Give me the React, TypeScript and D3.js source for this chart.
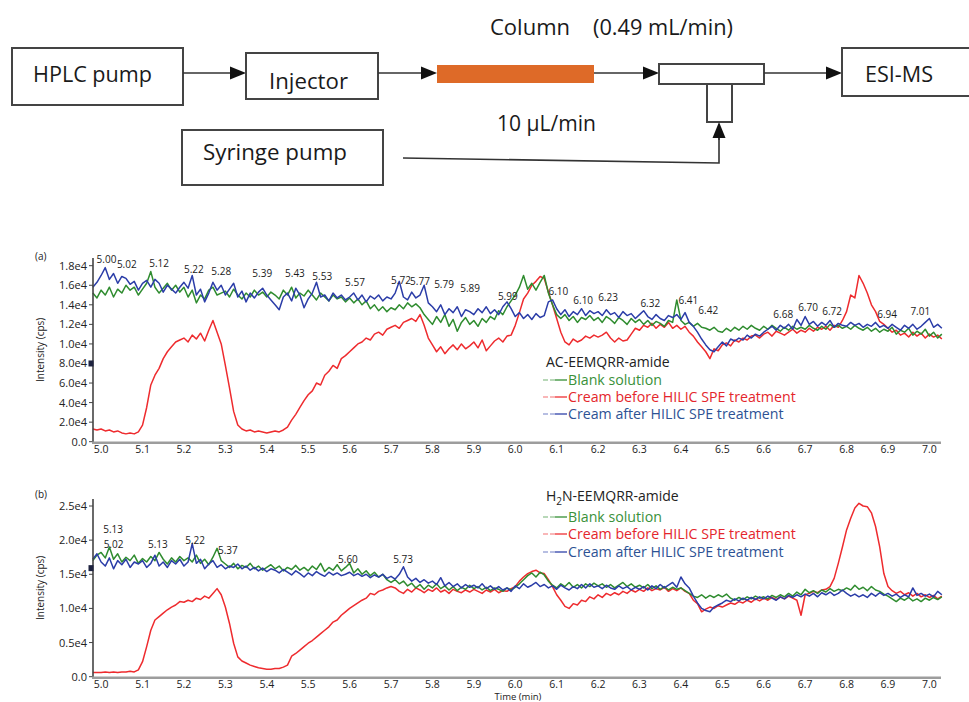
import React from 'react';
import * as d3 from 'd3';

// traces, one value every 0.01 min starting at 4.98 min (intensity in 1e4 cps)
const T0 = 4.98;
const DT = 0.01;

const timeTicks = [5.0, 5.1, 5.2, 5.3, 5.4, 5.5, 5.6, 5.7, 5.8, 5.9, 6.0, 6.1, 6.2, 6.3, 6.4, 6.5, 6.6, 6.7, 6.8, 6.9, 7.0];
const timeTickLabels = ['5.0', '5.1', '5.2', '5.3', '5.4', '5.5', '5.6', '5.7', '5.8', '5.9', '6.0', '6.1', '6.2', '6.3', '6.4', '6.5', '6.6', '6.7', '6.8', '6.9', '7.0'];

const aTicks = [0, 0.2, 0.4, 0.6, 0.8, 1.0, 1.2, 1.4, 1.6, 1.8];
const aTickLabels = ['0.0', '2.0e4', '4.0e4', '6.0e4', '8.0e4', '1.0e4', '1.2e4', '1.4e4', '1.6e4', '1.8e4'];
const bTicks = [0, 0.5, 1.0, 1.5, 2.0, 2.5];
const bTickLabels = ['0.0', '0.5e4', '1.0e4', '1.5e4', '2.0e4', '2.5e4'];

const seriesNames = ['Blank solution', 'Cream before HILIC SPE treatment', 'Cream after HILIC SPE treatment'];

// (a) AC-EEMQRR-amide
const aBlank = [
  1.52, 1.47,
  1.55, 1.50, 1.58, 1.48, 1.56, 1.52, 1.60, 1.55, 1.58, 1.50,
  1.56, 1.62, 1.74, 1.58, 1.52, 1.57, 1.62, 1.55, 1.60, 1.53,
  1.58, 1.48, 1.55, 1.42, 1.50, 1.46, 1.55, 1.58, 1.50, 1.52,
  1.54, 1.48, 1.56, 1.50, 1.46, 1.52, 1.48, 1.55, 1.50, 1.53,
  1.48, 1.53, 1.50, 1.46, 1.55, 1.50, 1.58, 1.47, 1.52, 1.49,
  1.55, 1.50, 1.45, 1.52, 1.48, 1.44, 1.50, 1.46, 1.48, 1.43,
  1.47, 1.42, 1.46, 1.40, 1.44, 1.36, 1.40, 1.34, 1.38, 1.33,
  1.37, 1.35, 1.40, 1.36, 1.42, 1.38, 1.41, 1.37, 1.30, 1.25,
  1.20, 1.28, 1.22, 1.30, 1.18, 1.25, 1.13, 1.22, 1.27, 1.20,
  1.24, 1.18, 1.26, 1.22, 1.28, 1.25, 1.34, 1.30, 1.38, 1.44,
  1.50, 1.58, 1.70, 1.56, 1.62, 1.55, 1.63, 1.70, 1.52, 1.40,
  1.30, 1.26, 1.30, 1.24, 1.28, 1.22, 1.27, 1.25, 1.29, 1.24,
  1.27, 1.22, 1.28, 1.25, 1.21, 1.27, 1.24, 1.20, 1.26, 1.22,
  1.25, 1.20, 1.24, 1.19, 1.23, 1.21, 1.18, 1.24, 1.22, 1.45,
  1.24, 1.20, 1.22, 1.18, 1.21, 1.17, 1.16, 1.14, 1.17, 1.13,
  1.12, 1.16, 1.13, 1.17, 1.14, 1.18, 1.15, 1.19, 1.16, 1.14,
  1.18, 1.15, 1.19, 1.16, 1.13, 1.17, 1.14, 1.18, 1.15, 1.17,
  1.15, 1.19, 1.16, 1.14, 1.18, 1.15, 1.20, 1.17, 1.19, 1.16,
  1.18, 1.15, 1.19, 1.16, 1.14, 1.17, 1.13, 1.16, 1.12, 1.15,
  1.13, 1.17, 1.10, 1.14, 1.12, 1.16, 1.09, 1.13, 1.10, 1.15,
  1.08, 1.12, 1.06, 1.10,
];
const aBefore = [
  0.13, 0.12,
  0.13, 0.11, 0.12, 0.10, 0.11, 0.09, 0.08, 0.09, 0.08, 0.10,
  0.17, 0.35, 0.58, 0.68, 0.75, 0.85, 0.92, 0.97, 1.02, 1.04,
  1.06, 1.02, 1.09, 1.05, 1.11, 1.03, 1.14, 1.24, 1.12, 1.00,
  0.78, 0.55, 0.31, 0.17, 0.13, 0.11, 0.12, 0.10, 0.11, 0.10,
  0.09, 0.10, 0.11, 0.10, 0.12, 0.15, 0.22, 0.28, 0.35, 0.42,
  0.48, 0.52, 0.60, 0.58, 0.68, 0.72, 0.78, 0.75, 0.85, 0.88,
  0.92, 0.96, 1.00, 1.02, 1.06, 1.04, 1.10, 1.12, 1.09, 1.15,
  1.17, 1.19, 1.16, 1.22, 1.24, 1.26, 1.23, 1.30, 1.19, 1.06,
  0.99, 0.92, 0.97, 0.90, 0.95, 0.99, 0.94, 1.00, 0.95, 0.98,
  1.02, 0.96, 1.04, 0.93, 0.98, 1.03, 1.06, 1.02, 1.08, 1.09,
  1.19, 1.32, 1.46, 1.52, 1.60, 1.64, 1.69, 1.67, 1.53, 1.40,
  1.26, 1.12, 1.02, 0.99, 1.05, 1.02, 1.04, 1.08, 1.06, 1.09,
  1.07, 1.09, 1.12, 1.06, 1.02, 1.06, 1.03, 1.04, 1.10, 1.16,
  1.14, 1.19, 1.17, 1.21, 1.16, 1.20, 1.17, 1.22, 1.16, 1.19,
  1.15, 1.18, 1.12, 1.08, 1.02, 0.97, 0.92, 0.85, 0.95, 0.93,
  0.99, 1.01, 0.98, 1.04, 1.02, 1.06, 1.04, 1.08, 1.09, 1.06,
  1.10, 1.12, 1.08, 1.13, 1.11, 1.09, 1.12, 1.15, 1.11, 1.14,
  1.12, 1.16, 1.13, 1.17, 1.15, 1.18, 1.14, 1.19, 1.17, 1.24,
  1.33, 1.50, 1.47, 1.70, 1.62, 1.52, 1.40, 1.33, 1.23, 1.20,
  1.16, 1.12, 1.14, 1.09, 1.11, 1.07, 1.12, 1.08, 1.11, 1.06,
  1.10, 1.07, 1.09, 1.05,
];
const aAfter = [
  1.58, 1.63,
  1.70, 1.78, 1.66, 1.72, 1.62, 1.69, 1.67, 1.61, 1.64, 1.55,
  1.62, 1.65, 1.58, 1.66, 1.62, 1.53, 1.60, 1.56, 1.52, 1.58,
  1.63, 1.57, 1.70, 1.50, 1.56, 1.43, 1.52, 1.63, 1.55, 1.60,
  1.50, 1.56, 1.62, 1.48, 1.54, 1.43, 1.52, 1.47, 1.53, 1.57,
  1.50, 1.45, 1.40, 1.35, 1.48, 1.52, 1.44, 1.57, 1.50, 1.37,
  1.46, 1.52, 1.63, 1.48, 1.50, 1.44, 1.52, 1.47, 1.50, 1.45,
  1.48, 1.52, 1.45, 1.50, 1.43, 1.49, 1.46, 1.50, 1.44, 1.48,
  1.46, 1.52, 1.64, 1.48, 1.45, 1.53, 1.47, 1.50, 1.60, 1.42,
  1.38, 1.33, 1.40, 1.30, 1.36, 1.32, 1.38, 1.28, 1.35, 1.33,
  1.30, 1.36, 1.32, 1.38, 1.31, 1.35, 1.30, 1.38, 1.43, 1.36,
  1.28, 1.32, 1.26, 1.30, 1.25, 1.31, 1.27, 1.29, 1.43, 1.45,
  1.36, 1.30, 1.35, 1.28, 1.33, 1.30, 1.36, 1.29, 1.34, 1.31,
  1.33, 1.29, 1.35, 1.30, 1.32, 1.27, 1.33, 1.29, 1.31, 1.26,
  1.30, 1.34, 1.28, 1.25, 1.30, 1.26, 1.24, 1.29, 1.27, 1.30,
  1.25, 1.32, 1.22, 1.18, 1.12, 1.05, 0.99, 0.94, 0.92, 0.97,
  1.02, 0.98, 1.05, 1.03, 1.06, 1.04, 1.09, 1.06, 1.10, 1.08,
  1.12, 1.15, 1.18, 1.14, 1.19, 1.16, 1.20, 1.15, 1.25, 1.19,
  1.28, 1.20, 1.23, 1.18, 1.22, 1.19, 1.24, 1.17, 1.21, 1.19,
  1.18, 1.22, 1.19, 1.21, 1.17, 1.20, 1.18, 1.22, 1.17, 1.19,
  1.16, 1.20, 1.17, 1.14, 1.19, 1.16, 1.20, 1.15, 1.18, 1.22,
  1.26, 1.17, 1.20, 1.16,
];

// (b) H2N-EEMQRR-amide
const bBlank = [
  1.70, 1.78,
  1.82, 1.74, 1.90, 1.72, 1.80, 1.68, 1.75, 1.70, 1.78, 1.66,
  1.73, 1.68, 1.76, 1.70, 1.82, 1.72, 1.65, 1.74, 1.68, 1.76,
  1.70, 1.74, 1.68, 1.78, 1.66, 1.72, 1.64, 1.75, 1.88, 1.70,
  1.65, 1.60, 1.66, 1.58, 1.63, 1.60, 1.66, 1.58, 1.62, 1.56,
  1.60, 1.64, 1.58, 1.62, 1.55, 1.60, 1.57, 1.63, 1.56, 1.60,
  1.55, 1.62, 1.57, 1.66, 1.54, 1.60, 1.56, 1.64, 1.55, 1.60,
  1.66, 1.52, 1.58, 1.50, 1.55, 1.48, 1.53, 1.46, 1.50, 1.42,
  1.38, 1.42, 1.36, 1.40, 1.33, 1.37, 1.30, 1.35, 1.28, 1.34,
  1.30, 1.36, 1.29, 1.33, 1.27, 1.32, 1.26, 1.31, 1.28, 1.34,
  1.29, 1.32, 1.27, 1.31, 1.26, 1.30, 1.28, 1.25, 1.30, 1.27,
  1.31, 1.36, 1.42, 1.48, 1.52, 1.46, 1.53, 1.49, 1.40, 1.34,
  1.30, 1.36, 1.32, 1.38, 1.31, 1.35, 1.30, 1.36, 1.32, 1.37,
  1.33, 1.36, 1.31, 1.35, 1.30, 1.34, 1.38, 1.32, 1.36, 1.31,
  1.34, 1.30, 1.35, 1.29, 1.33, 1.28, 1.32, 1.27, 1.31, 1.28,
  1.30, 1.26, 1.22, 1.18, 1.16, 1.20, 1.15, 1.19, 1.16, 1.20,
  1.17, 1.21, 1.15, 1.12, 1.16, 1.13, 1.17, 1.14, 1.18, 1.15,
  1.17, 1.14, 1.19, 1.16, 1.20, 1.17, 1.22, 1.18, 1.24, 1.20,
  1.28, 1.23, 1.26, 1.22, 1.27, 1.24, 1.29, 1.25, 1.28, 1.26,
  1.30, 1.27, 1.34, 1.28, 1.31, 1.26, 1.32, 1.27, 1.25, 1.21,
  1.18, 1.14, 1.10, 1.15, 1.12, 1.16, 1.11, 1.14, 1.10, 1.15,
  1.12, 1.16, 1.13, 1.17,
];
const bBefore = [
  0.06, 0.06,
  0.06, 0.07, 0.06, 0.07, 0.06, 0.07, 0.07, 0.08, 0.07, 0.10,
  0.22, 0.44, 0.68, 0.83, 0.88, 0.93, 0.98, 1.02, 1.05, 1.10,
  1.09, 1.12, 1.10, 1.15, 1.13, 1.18, 1.15, 1.22, 1.29, 1.20,
  1.02, 0.78, 0.49, 0.29, 0.23, 0.20, 0.17, 0.15, 0.13, 0.12,
  0.11, 0.11, 0.12, 0.12, 0.14, 0.17, 0.30, 0.34, 0.39, 0.44,
  0.49, 0.53, 0.58, 0.63, 0.68, 0.73, 0.80, 0.83, 0.90, 0.95,
  1.00, 1.04, 1.08, 1.12, 1.15, 1.22, 1.20, 1.25, 1.27, 1.30,
  1.32, 1.30, 1.25, 1.22, 1.28, 1.24, 1.30, 1.27, 1.23, 1.28,
  1.25, 1.30, 1.24, 1.27, 1.22, 1.28, 1.25, 1.23, 1.27, 1.24,
  1.28, 1.25, 1.22, 1.27, 1.24, 1.28, 1.23, 1.26, 1.25, 1.29,
  1.32, 1.40, 1.46, 1.51, 1.54, 1.56, 1.52, 1.51, 1.42, 1.32,
  1.20, 1.12, 1.03, 1.00, 1.07, 1.05, 1.12, 1.10, 1.17, 1.14,
  1.20, 1.16, 1.22, 1.19, 1.23, 1.20, 1.25, 1.22, 1.27, 1.24,
  1.28, 1.25, 1.30, 1.26, 1.29, 1.27, 1.31, 1.25, 1.29, 1.26,
  1.30, 1.25, 1.22, 1.12, 1.07, 0.95, 0.99, 1.02, 1.00, 1.04,
  1.02, 1.05, 1.08, 1.06, 1.10, 1.08, 1.12, 1.09, 1.14, 1.11,
  1.15, 1.12, 1.16, 1.13, 1.17, 1.14, 1.18, 1.15, 1.12, 0.90,
  1.20, 1.22, 1.25, 1.23, 1.27, 1.28, 1.32, 1.44, 1.66, 1.90,
  2.15, 2.32, 2.47, 2.54, 2.50, 2.49, 2.40, 2.20, 1.90, 1.51,
  1.32, 1.26, 1.22, 1.25, 1.20, 1.23, 1.18, 1.22, 1.17, 1.20,
  1.16, 1.19, 1.14, 1.18,
];
const bAfter = [
  1.72, 1.80,
  1.68, 1.62, 1.74, 1.58, 1.70, 1.64, 1.72, 1.60, 1.68, 1.65,
  1.70, 1.60, 1.66, 1.78, 1.62, 1.68, 1.60, 1.70, 1.65, 1.72,
  1.62, 1.68, 1.95, 1.66, 1.72, 1.58, 1.65, 1.70, 1.60, 1.64,
  1.58, 1.62, 1.60, 1.65, 1.58, 1.62, 1.56, 1.60, 1.55, 1.59,
  1.54, 1.58, 1.56, 1.52, 1.57, 1.53, 1.49, 1.55, 1.51, 1.46,
  1.52, 1.48, 1.54, 1.50, 1.47, 1.53, 1.49, 1.52, 1.48, 1.50,
  1.53, 1.48, 1.51, 1.47, 1.50, 1.45, 1.49, 1.46, 1.50, 1.44,
  1.47, 1.43, 1.50, 1.61, 1.46, 1.40, 1.44, 1.38, 1.42, 1.37,
  1.40, 1.35, 1.45, 1.33, 1.38, 1.32, 1.36, 1.30, 1.35, 1.31,
  1.34, 1.30, 1.36, 1.29, 1.33, 1.28, 1.32, 1.27, 1.30, 1.25,
  1.33, 1.29, 1.36, 1.31, 1.34, 1.38, 1.32, 1.35, 1.30, 1.33,
  1.28, 1.34, 1.30, 1.27, 1.32, 1.29, 1.35, 1.30, 1.36, 1.31,
  1.33, 1.29, 1.34, 1.30, 1.28, 1.33, 1.29, 1.32, 1.27, 1.31,
  1.28, 1.32, 1.27, 1.33, 1.29, 1.35, 1.30, 1.34, 1.38, 1.31,
  1.46, 1.36, 1.30, 1.18, 1.08, 1.00, 0.97, 0.95, 1.02, 1.05,
  1.08, 1.12, 1.10, 1.14, 1.11, 1.15, 1.12, 1.16, 1.13, 1.17,
  1.14, 1.18, 1.15, 1.12, 1.17, 1.14, 1.19, 1.16, 1.20, 1.17,
  1.21, 1.18, 1.22, 1.17, 1.23, 1.20, 1.24, 1.19, 1.22, 1.27,
  1.22, 1.18, 1.21, 1.17, 1.20, 1.16, 1.22, 1.18, 1.23, 1.19,
  1.22, 1.18, 1.21, 1.16, 1.20, 1.17, 1.30, 1.19, 1.22, 1.18,
  1.21, 1.17, 1.25, 1.20,
];

// peak retention-time labels: text, time where drawn, intensity at baseline
const aPeakLabels = ['5.00', '5.02', '5.12', '5.22', '5.28', '5.39', '5.43', '5.53', '5.57', '5.72', '5.77', '5.79', '5.89', '5.99', '6.10', '6.10', '6.23', '6.32', '6.41', '6.42', '6.68', '6.70', '6.72', '6.94', '7.01'];
const aPeakTimes = [5.013, 5.062, 5.140, 5.224, 5.290, 5.389, 5.468, 5.534, 5.613, 5.724, 5.770, 5.828, 5.891, 5.982, 6.104, 6.164, 6.224, 6.326, 6.418, 6.466, 6.647, 6.707, 6.765, 6.898, 6.978];
const aPeakValues = [1.83, 1.78, 1.79, 1.73, 1.71, 1.68, 1.68, 1.65, 1.59, 1.61, 1.60, 1.57, 1.53, 1.45, 1.50, 1.41, 1.44, 1.38, 1.41, 1.31, 1.27, 1.34, 1.30, 1.27, 1.30];
const bPeakLabels = ['5.13', '5.02', '5.13', '5.22', '5.37', '5.60', '5.73'];
const bPeakTimes = [5.029, 5.030, 5.137, 5.227, 5.306, 5.596, 5.729];
const bPeakValues = [2.11, 1.88, 1.89, 1.95, 1.80, 1.67, 1.66];

const COLORS = ['#2f8c2f', '#ee2b2e', '#2b3da8'];
const LEGEND_TEXT = ['#3a913a', '#e4262c', '#2d5294'];
const FONT = '"Open Sans", "DejaVu Sans", sans-serif';

const x = d3.scaleLinear().domain([4.978, 7.028]).range([92, 941]);

function Arrow({ x1, y1, x2, y2 }) {
  const ang = Math.atan2(y2 - y1, x2 - x1);
  const L = 16, W = 6.5;
  const bx = x2 - L * Math.cos(ang), by = y2 - L * Math.sin(ang);
  const px = -Math.sin(ang) * W, py = Math.cos(ang) * W;
  return (
    <g>
      <line x1={x1} y1={y1} x2={bx} y2={by} stroke="#333" strokeWidth={1.6} />
      <path d={`M${x2},${y2}L${bx + px},${by + py}L${bx - px},${by - py}Z`} fill="#111" />
    </g>
  );
}

function Label({ x, y, w, children }) {
  return (
    <text x={x} y={y} fontSize={22} fontFamily={FONT} fill="#1a1a1a"
      textLength={w} lengthAdjust="spacingAndGlyphs">{children}</text>
  );
}

function Diagram() {
  const box = { fill: 'none', stroke: '#444', strokeWidth: 2 };
  return (
    <g>
      <rect x={12} y={48} width={171} height={57} {...box} />
      <Label x={33} y={82} w={119}>HPLC pump</Label>
      <Arrow x1={183} y1={73} x2={246} y2={73} />
      <rect x={246} y={53} width={132} height={46} {...box} />
      <Label x={269} y={89} w={79}>Injector</Label>
      <Arrow x1={378} y1={73} x2={437} y2={73} />
      <rect x={437} y={65} width={157} height={18} fill="#de6a28" />
      <Arrow x1={594} y1={73} x2={659} y2={73} />
      <rect x={659} y={64} width={105} height={20} {...box} />
      <rect x={707} y={84} width={25} height={38} {...box} />
      <Arrow x1={764} y1={73} x2={842} y2={73} />
      <rect x={842} y={48} width={140} height={48} {...box} />
      <Label x={865} y={82} w={68}>ESI-MS</Label>
      <Label x={490} y={35} w={80}>Column</Label>
      <Label x={593} y={35} w={140}>(0.49 mL/min)</Label>
      <Label x={497} y={131} w={99}>10 µL/min</Label>
      <rect x={182} y={130} width={201} height={55} {...box} />
      <Label x={203} y={160} w={144}>Syringe pump</Label>
      <polyline points="403,158 719,163 719,136" fill="none" stroke="#333" strokeWidth={1.6} />
      <Arrow x1={719} y1={140} x2={719} y2={122} />
    </g>
  );
}

function Panel({ tag, tagY, axisTop, y0, yMaxPix, yMax, ticks, tickLabels, series, peakLabels, peakTimes, peakValues, title, titleY, legendY, squareValue, showTime }) {
  const y = d3.scaleLinear().domain([0, yMax]).range([y0, yMaxPix]);
  const line = d3.line<number>().x((_, i) => x(T0 + i * DT)).y((d) => y(d));
  const order = [1, 0, 2];
  return (
    <g fontFamily={FONT}>
      <text x={35} y={tagY} fontSize={10} fill="#222">{tag}</text>
      <text transform={`translate(44,${(axisTop + y0) / 2}) rotate(-90)`} fontSize={10} textAnchor="middle" fill="#222">Intensity (cps)</text>
      {ticks.map((t, i) => (
        <g key={i}>
          <line x1={89} x2={93} y1={y(t)} y2={y(t)} stroke="#444" strokeWidth={1} />
          <text x={87} y={y(t) + 4} fontSize={11} textAnchor="end" fill="#222">{tickLabels[i]}</text>
        </g>
      ))}
      {order.map((k) => (
        <path key={k} d={line(series[k]) || ''} fill="none" stroke={COLORS[k]} strokeWidth={1.5} strokeLinejoin="round" />
      ))}
      <line x1={93} x2={93} y1={axisTop} y2={y0 + 1} stroke="#444" strokeWidth={1.6} />
      <rect x={88.5} y={y(squareValue) - 3} width={5} height={6} fill="#1e2340" />
      <line x1={92} x2={941} y1={y0 + 1} y2={y0 + 1} stroke="#9d9d9d" strokeWidth={2.4} />
      {timeTicks.map((t, i) => (
        <text key={i} x={x(t)} y={y0 + 11.5} fontSize={10.5} textAnchor="middle" fill="#222">{timeTickLabels[i]}</text>
      ))}
      {showTime && <text x={518} y={y0 + 23.5} fontSize={9.5} textAnchor="middle" fill="#222">Time (min)</text>}
      {peakLabels.map((s, i) => (
        <text key={i} x={x(peakTimes[i])} y={y(peakValues[i])} fontSize={10} textAnchor="middle" fill="#1a1a1a">{s}</text>
      ))}
      <text x={546} y={titleY} fontSize={14} fill="#222">{title}</text>
      {seriesNames.map((n, k) => (
        <g key={k}>
          <line x1={543} x2={555} y1={legendY[k]} y2={legendY[k]} stroke={COLORS[k]} strokeOpacity={0.45} strokeWidth={1.6} strokeDasharray="5 2" />
          <line x1={555} x2={567} y1={legendY[k]} y2={legendY[k]} stroke={COLORS[k]} strokeOpacity={0.8} strokeWidth={1.6} />
          <text x={568} y={legendY[k] + 5} fontSize={14.2} fill={LEGEND_TEXT[k]}>{n}</text>
        </g>
      ))}
    </g>
  );
}

export default function App() {
  return (
    <svg width={969} height={702} style={{ position: 'absolute', left: 0, top: 0, background: '#fff' }}>
      <rect width={969} height={702} fill="#fff" />
      <Diagram />
      <Panel tag="(a)" tagY={260} axisTop={258} y0={441.7} yMaxPix={265.7} yMax={1.8}
        ticks={aTicks} tickLabels={aTickLabels} series={[aBlank, aBefore, aAfter]}
        peakLabels={aPeakLabels} peakTimes={aPeakTimes} peakValues={aPeakValues}
        title="AC-EEMQRR-amide" titleY={367} legendY={[380, 397, 414]} squareValue={0.8} showTime={false} />
      <Panel tag="(b)" tagY={498} axisTop={499} y0={676.7} yMaxPix={506} yMax={2.5}
        ticks={bTicks} tickLabels={bTickLabels} series={[bBlank, bBefore, bAfter]}
        peakLabels={bPeakLabels} peakTimes={bPeakTimes} peakValues={bPeakValues}
        title={<>H<tspan dy={4} fontSize={10}>2</tspan><tspan dy={-4}>N-EEMQRR-amide</tspan></>}
        titleY={501} legendY={[517, 534, 552]} squareValue={1.59} showTime={true} />
    </svg>
  );
}
